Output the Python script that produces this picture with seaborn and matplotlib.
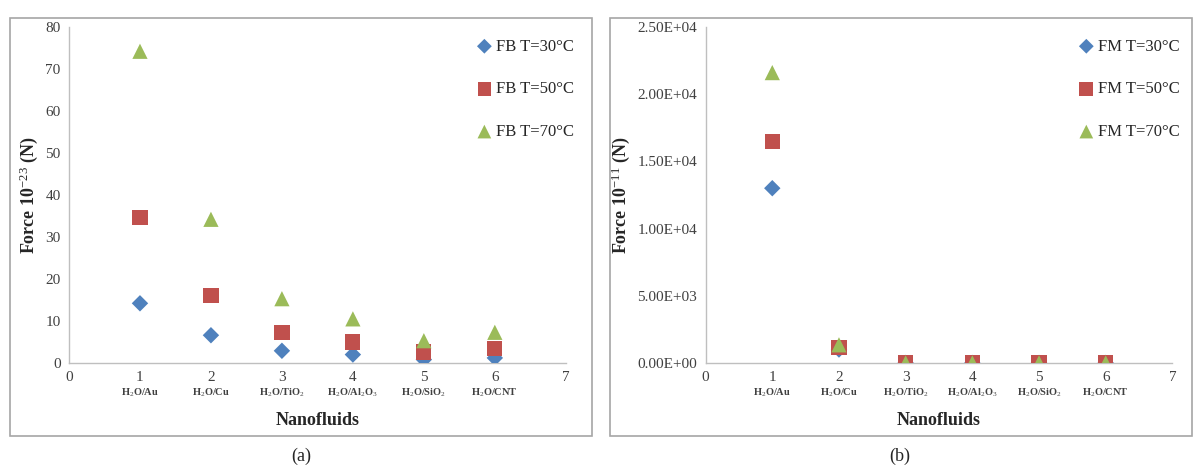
import numpy as np
import pandas as pd
import matplotlib
matplotlib.use('Agg')
import matplotlib.pyplot as plt
import seaborn as sns
from matplotlib.patches import Rectangle
from matplotlib.ticker import FuncFormatter

# data
positions = [1, 2, 3, 4, 5, 6]
fluids = ['H$_2$O/Au', 'H$_2$O/Cu', 'H$_2$O/TiO$_2$', 'H$_2$O/Al$_2$O$_3$',
          'H$_2$O/SiO$_2$', 'H$_2$O/CNT']
temps = ['T=30°C', 'T=50°C', 'T=70°C']

fb_30 = [14.2, 6.6, 2.9, 2.0, 0.8, 1.2]
fb_50 = [34.7, 16.0, 7.2, 5.0, 2.6, 3.5]
fb_70 = [74.2, 34.2, 15.3, 10.5, 5.3, 7.3]

fm_30 = [13000, 1000, 5, 5, 5, 5]
fm_50 = [16500, 1150, 8, 8, 8, 8]
fm_70 = [21600, 1350, 10, 10, 10, 10]

colors = ['#4F81BD', '#C0504D', '#9BBB59']
markers = ['D', 's', '^']
sizes = [70, 120, 120]


def long_df(prefix, series):
    rows = []
    for t, vals in zip(temps, series):
        for x, v in zip(positions, vals):
            rows.append({'x': x, 'y': v, 'series': prefix + ' ' + t})
    return pd.DataFrame(rows)


def draw_panel(ax, df, ylabel, ymax, ystep, fmt=None):
    '''
    One Excel-like scatter panel
    '''
    names = list(df['series'].unique())
    for name, c, m, s in zip(names, colors, markers, sizes):
        sub = df[df['series'] == name]
        sns.scatterplot(data=sub, x='x', y='y', color=c, marker=m, s=s,
                        edgecolor='none', label=name, ax=ax, zorder=3)
    ax.set_xlim(0, 7)
    ax.set_ylim(0, ymax)
    ax.set_xticks(range(0, 8))
    ax.set_yticks(np.arange(0, ymax + ystep / 2, ystep))
    if fmt is not None:
        ax.yaxis.set_major_formatter(FuncFormatter(fmt))
    for sp in ['top', 'right']:
        ax.spines[sp].set_visible(False)
    for sp in ['left', 'bottom']:
        ax.spines[sp].set_color('#BFBFBF')
        ax.spines[sp].set_linewidth(1)
    ax.tick_params(length=0, labelsize=11, colors='#404040', pad=6)
    ax.grid(False)
    ax.set_xlabel('Nanofluids', fontsize=13, fontweight='bold', labelpad=20)
    ax.set_ylabel(ylabel, fontsize=13, fontweight='bold', labelpad=4)
    for x, name in zip(positions, fluids):
        ax.text(x, -0.07, name, transform=ax.get_xaxis_transform(),
                ha='center', va='top', fontsize=7.5, fontweight='bold',
                color='#404040')
    ax.legend(loc='upper right', frameon=False, fontsize=12,
              labelspacing=1.6, handletextpad=-0.3, borderaxespad=0.0,
              markerscale=0.9, bbox_to_anchor=(1.03, 0.985))


def main():
    sns.set_theme(style='white')
    plt.rcParams['font.family'] = ['Liberation Serif', 'DejaVu Serif']
    plt.rcParams['mathtext.fontset'] = 'custom'
    plt.rcParams['mathtext.rm'] = 'Liberation Serif'
    plt.rcParams['mathtext.bf'] = 'Liberation Serif:bold'
    plt.rcParams['mathtext.it'] = 'Liberation Serif:italic'

    fig = plt.figure(figsize=(12, 4.72), dpi=100)
    ax1 = fig.add_axes([0.0575, 0.231, 0.414, 0.712])
    ax2 = fig.add_axes([0.588, 0.231, 0.389, 0.712])

    # panel frames
    for x0, x1 in [(10, 592), (610, 1192)]:
        fig.patches.append(Rectangle((x0 / 1200, 1 - 436 / 472),
                                     (x1 - x0) / 1200, (436 - 18) / 472,
                                     transform=fig.transFigure, fill=False,
                                     edgecolor='#A6A6A6', linewidth=1.2))

    draw_panel(ax1, long_df('FB', [fb_30, fb_50, fb_70]),
               'Force 10$^{-23}$ (N)', 80, 10)
    draw_panel(ax2, long_df('FM', [fm_30, fm_50, fm_70]),
               'Force 10$^{-11}$ (N)', 25000, 5000,
               fmt=lambda v, p: '%.2E' % v)

    fig.text(301 / 1200, 1 - 456 / 472, '(a)', ha='center', va='center',
             fontsize=13)
    fig.text(900 / 1200, 1 - 456 / 472, '(b)', ha='center', va='center',
             fontsize=13)

    fig.savefig('out.png', dpi=100)


if __name__ == "__main__":
    main()
